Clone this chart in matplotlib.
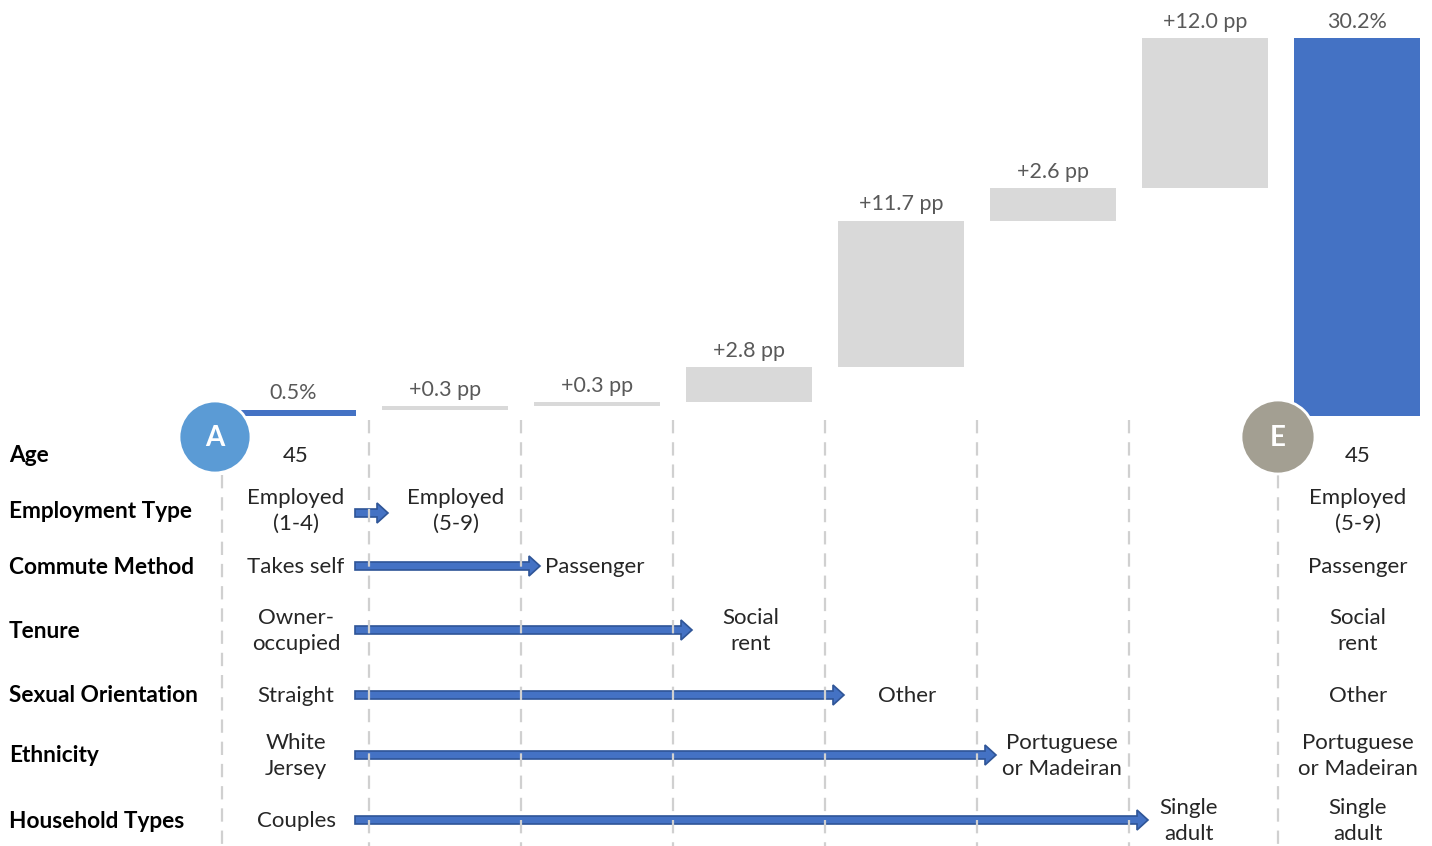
import matplotlib.pyplot as plt
from matplotlib.patches import Circle, FancyArrow

plt.rcParams['font.family'] = ['Lato', 'DejaVu Sans']

# waterfall values (percent / percentage points)
start_value = 0.5
step_values = [0.3, 0.3, 2.8, 11.7, 2.6, 12.0]
end_value = 30.2
bar_labels = ['0.5%', '+0.3 pp', '+0.3 pp', '+2.8 pp', '+11.7 pp', '+2.6 pp', '+12.0 pp', '30.2%']

# table rows
row_names = ['Age', 'Employment Type', 'Commute Method', 'Tenure',
             'Sexual Orientation', 'Ethnicity', 'Household Types']
start_profile = ['45', 'Employed\n(1-4)', 'Takes self', 'Owner-\noccupied',
                 'Straight', 'White\nJersey', 'Couples']
end_profile = ['45', 'Employed\n(5-9)', 'Passenger', 'Social\nrent',
               'Other', 'Portuguese\nor Madeiran', 'Single\nadult']
# column (step) at which each attribute changes, None = unchanged
change_step = [None, 1, 2, 3, 4, 5, 6]

BLUE = '#4472C4'
GREY = '#D9D9D9'
TXT = '#595959'
DARK = '#262626'

W, H = 1432, 846
fig = plt.figure(figsize=(W / 100, H / 100), dpi=100)

# --- waterfall axes: column units on x, percent on y ---
x0, dx = 293, 152          # pixel centre of first column, column spacing
base_px, ppx = 416, 12.52  # pixel of 0 %, pixels per pp
ax = fig.add_axes([0, 0, 1, 1])
ax.set_xlim(-x0 / dx, (W - x0) / dx)
ax.set_ylim(-(H - base_px) / ppx, base_px / ppx)
ax.axis('off')

n = len(step_values)
bottoms = [0]
heights = [start_value]
running = start_value
for v in step_values:
    bottoms.append(running)
    heights.append(v)
    running += v
bottoms.append(0)
heights.append(end_value)
colors = [BLUE] + [GREY] * n + [BLUE]
xs = list(range(n + 2))
ax.bar(xs, heights, bottom=bottoms, width=0.83, color=colors, zorder=2)
for x, b, h, lab in zip(xs, bottoms, heights, bar_labels):
    ax.text(x, b + h + 0.5, lab, ha='center', va='bottom', fontsize=15.5, color=TXT)

# --- table overlay in pixel coords ---
tab = fig.add_axes([0, 0, 1, 1])
tab.set_xlim(0, W)
tab.set_ylim(H, 0)
tab.axis('off')
tab.patch.set_alpha(0)

def col_px(i):
    return x0 + dx * i

row_y = [456, 511, 567, 631, 696, 756, 821]
new_label_x = [None, 456, 545, 751, 907, 1062, 1189]
last_x = 1358
a_x, e_x = 215, 1278

# dashed separators
sep_x = [222] + [col_px(i) + dx / 2 for i in range(n)] + [e_x]
for i, sx in enumerate(sep_x):
    top = 475 if i in (0, len(sep_x) - 1) else 420
    tab.plot([sx, sx], [top, H], color='#D0D0D0', lw=1.6,
             dashes=(6, 4), zorder=5)

# start / end markers
tab.add_patch(Circle((a_x, 437), 36, color='#5B9BD5', ec='white', lw=2, zorder=6))
tab.text(a_x, 438, 'A', ha='center', va='center', fontsize=20, color='white',
         fontweight='bold', zorder=7)
tab.add_patch(Circle((e_x, 437), 37, color='#A39F92', ec='white', lw=2, zorder=6))
tab.text(e_x, 438, 'E', ha='center', va='center', fontsize=20, color='white',
         fontweight='bold', zorder=7)

body = dict(fontsize=16, color=DARK, linespacing=1.4, va='center')
for k, (name, s, e, step) in enumerate(zip(row_names, start_profile, end_profile, change_step)):
    y = row_y[k]
    tab.text(9, y, name, ha='left', va='center', fontsize=16.3,
             fontweight='bold', color='black')
    tab.text(296, y, s, ha='center', **body)
    tab.text(last_x, y, e, ha='center', **body)
    if step is None:
        continue
    ax_start = 355
    tip = sep_x[step] + 19
    ay = y + 2 if k == 1 else y - 1
    tab.add_patch(FancyArrow(ax_start, ay, tip - ax_start, 0,
                             width=8, head_width=20, head_length=11,
                             length_includes_head=True, fc=BLUE, ec='#2F5597',
                             lw=1.2, zorder=3))
    if step == 2:
        tab.text(new_label_x[k], y, e, ha='left', **body)
    else:
        tab.text(new_label_x[k], y, e, ha='center', **body)

fig.savefig('out.png', dpi=100)
